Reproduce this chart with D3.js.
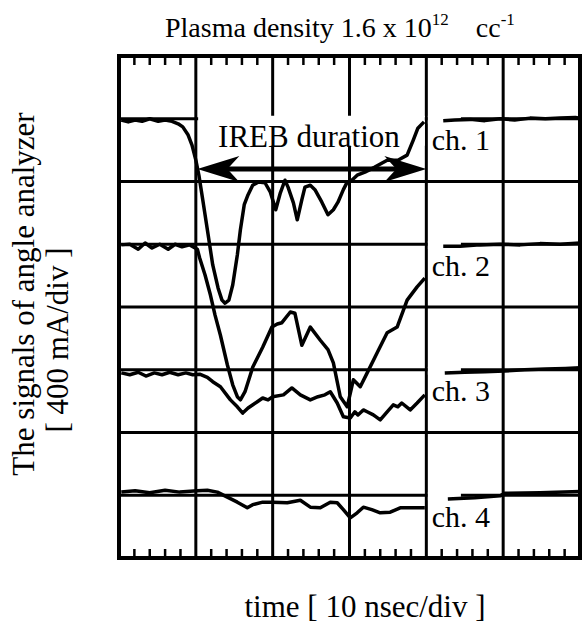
<!DOCTYPE html>
<html>
<head>
<meta charset="utf-8">
<script src="https://cdn.jsdelivr.net/npm/d3@7/dist/d3.min.js"></script>
<style>
  body { margin: 0; background: #fff; }
  text { font-family: "Liberation Serif", "Times New Roman", serif; fill: #000; }
</style>
</head>
<body>
<div id="chart"></div>
<script>
// Data (time in ns, signal in screen divisions, 0 = bottom of graticule)
//-----------------------------------------------------------------------
var chNames = ["ch. 1", "ch. 2", "ch. 3", "ch. 4"];
var chBase = [7, 5, 3, 1];

// null = trace hidden behind the channel label
var ch1 = [[0.3,6.98],[1.2,6.95],[2.1,6.98],[3.0,6.96],[4.0,7.0],[5.1,6.96],[6.0,6.98],[6.9,6.96],
  [7.7,6.92],[8.3,6.87],[9.0,6.74],[9.5,6.58],[10.0,6.34],[10.4,6.1],[10.9,5.71],[11.6,5.15],
  [12.2,4.67],[12.9,4.3],[13.4,4.11],[13.8,4.06],[14.3,4.11],[14.8,4.35],[15.4,4.83],[15.8,5.23],
  [16.3,5.63],[16.8,5.79],[17.4,5.94],[18.1,5.99],[19.0,5.98],[19.7,5.83],[20.4,5.55],[21.0,5.82],
  [21.6,6.02],[22.0,5.91],[22.7,5.66],[23.2,5.39],[23.8,5.71],[24.2,5.91],[24.9,5.94],[25.5,5.87],
  [26.4,5.67],[27.2,5.47],[27.9,5.55],[28.5,5.67],[29.2,5.87],[29.7,5.99],[30.3,6.02],[31.0,6.1],
  [32.0,6.15],[33.3,6.23],[34.9,6.34],[36.3,6.34],[37.5,6.42],[38.3,6.66],[38.9,6.85],[39.7,6.95],
  null,
  [42.2,6.97],[43.7,6.98],[45.7,6.99],[47.6,6.97],[49.6,7.0],[51.5,6.98],[53.5,7.01],[55.5,7.0],
  [57.4,7.01],[59.4,7.02],[60,7.01]];

var ch2 = [[0.3,4.99],[1.4,5.0],[2.5,4.92],[3.4,5.02],[4.3,4.94],[5.3,5.0],[6.4,4.92],[7.3,5.0],
  [8.2,4.96],[9.2,4.99],[10.2,4.92],[10.5,4.78],[11.2,4.51],[11.9,4.19],[12.5,3.87],[13.2,3.55],
  [14.1,3.08],[14.8,2.76],[15.4,2.57],[15.8,2.52],[16.4,2.65],[17.1,2.92],[17.4,3.04],[18.7,3.36],
  [19.9,3.68],[20.6,3.73],[21.2,3.75],[22.3,3.92],[22.9,3.9],[23.8,3.39],[24.9,3.68],[26.2,3.47],
  [27.2,3.32],[27.9,3.11],[28.8,2.57],[29.7,2.41],[30.5,2.84],[31.4,2.73],[32.3,2.95],[33.6,3.27],
  [34.9,3.59],[36.2,3.68],[37.5,4.11],[38.8,4.32],[39.8,4.46],
  null,
  [42.2,4.97],[44.4,4.97],[47.0,4.99],[49.6,5.0],[52.2,4.99],[54.8,5.01],[57.4,5.0],[60,5.02]];

var ch3 = [[0.3,2.95],[1.4,2.92],[2.5,2.96],[3.5,2.9],[4.6,2.95],[5.6,2.92],[6.6,2.96],[7.7,2.92],
  [8.7,2.95],[9.6,2.92],[10.5,2.93],[11.5,2.88],[12.2,2.81],[13.2,2.73],[14.5,2.52],[15.4,2.41],
  [16.1,2.31],[16.8,2.39],[18.0,2.49],[18.7,2.55],[19.4,2.52],[20.0,2.57],[21.4,2.6],[22.5,2.71],
  [23.6,2.6],[24.9,2.52],[25.9,2.57],[26.8,2.6],[27.5,2.65],[28.4,2.47],[29.2,2.25],[30.1,2.23],
  [30.7,2.33],[31.1,2.28],[31.8,2.36],[32.3,2.33],[33.1,2.28],[34.0,2.2],[34.9,2.33],[35.7,2.44],
  [36.3,2.41],[36.8,2.47],[37.9,2.36],[38.8,2.47],[39.8,2.6],
  null,
  [42.4,2.95],[45.0,2.96],[47.6,2.97],[50.2,2.98],[52.8,3.0],[55.5,3.01],[58.1,3.02],[60,3.03]];

var ch4 = [[0.3,1.05],[2.1,1.07],[4.0,1.04],[6.0,1.08],[7.9,1.05],[10.2,1.07],[11.5,1.08],[12.8,1.05],
  [14.1,0.97],[15.4,0.89],[16.7,0.8],[17.4,0.85],[18.7,0.89],[20.0,0.89],[21.9,0.88],[23.6,0.92],
  [24.9,0.81],[26.2,0.8],[27.5,0.89],[28.4,0.88],[29.2,0.77],[30.1,0.64],[31.0,0.72],[31.8,0.81],
  [32.9,0.77],[34.0,0.72],[35.3,0.73],[36.6,0.8],[38.3,0.8],[39.8,0.8],
  null,
  [42.8,0.94],[46.3,0.96],[49.6,0.99],[50.2,1.03],[54.8,1.04],[60,1.06]];

var traces = [ch1, ch2, ch3, ch4];

// IREB duration arrow (ns) and its level (div)
var arrowSpan = [10.2, 40.0];
var arrowLevel = 6.2;

// Sizing parameters
//------------------
var svgWidth = 585;
var svgHeight = 629;

var frame = { left: 119, right: 580, top: 56, bottom: 558 };

var svg = d3.select("#chart")
  .append("svg")
  .attr("width", svgWidth)
  .attr("height", svgHeight);

svg.append("rect")
  .attr("width", svgWidth)
  .attr("height", svgHeight)
  .attr("fill", "#fff");

var x = d3.scaleLinear().domain([0, 60]).range([frame.left, frame.right]);
var y = d3.scaleLinear().domain([0, 8]).range([frame.bottom, frame.top]);

// Graticule
//----------
var grid = svg.append("g").attr("stroke", "#000").attr("stroke-width", 3);

grid.selectAll(".vline")
  .data(d3.range(10, 60, 10))
  .enter()
  .append("line")
  .attr("x1", d => x(d)).attr("x2", d => x(d))
  .attr("y1", y(8)).attr("y2", y(0));

grid.selectAll(".hline")
  .data(d3.range(1, 8))
  .enter()
  .append("line")
  .attr("x1", x(0)).attr("x2", x(60))
  .attr("y1", d => y(d)).attr("y2", d => y(d));

// minor ticks, top and bottom
var minor = d3.range(2, 60, 2).filter(d => d % 10 !== 0);
grid.selectAll(".tickTop")
  .data(minor)
  .enter()
  .append("line")
  .attr("stroke-width", 2.5)
  .attr("x1", d => x(d)).attr("x2", d => x(d))
  .attr("y1", y(8)).attr("y2", y(8) + 9);
grid.selectAll(".tickBottom")
  .data(minor)
  .enter()
  .append("line")
  .attr("stroke-width", 2.5)
  .attr("x1", d => x(d)).attr("x2", d => x(d))
  .attr("y1", y(0)).attr("y2", y(0) - 9);

svg.append("rect")
  .attr("x", x(0)).attr("y", y(8))
  .attr("width", x(60) - x(0)).attr("height", y(0) - y(8))
  .attr("fill", "none")
  .attr("stroke", "#000")
  .attr("stroke-width", 4);

// white patches behind the labels
svg.append("rect")
  .attr("x", x(10.3)).attr("y", y(7) - 3)
  .attr("width", x(39.8) - x(10.3)).attr("height", 30)
  .attr("fill", "#fff");

svg.selectAll(".mask")
  .data(chBase)
  .enter()
  .append("rect")
  .attr("x", x(40.2))
  .attr("y", d => y(d) - 3)
  .attr("width", x(44.5) - x(40.2))
  .attr("height", 8)
  .attr("fill", "#fff");

// Traces
//-------
var line = d3.line()
  .defined(d => d !== null)
  .x(d => x(d[0]))
  .y(d => y(d[1]));

svg.selectAll(".trace")
  .data(traces)
  .enter()
  .append("path")
  .attr("d", line)
  .attr("fill", "none")
  .attr("stroke", "#000")
  .attr("stroke-width", 3.5)
  .attr("stroke-linejoin", "round");

// Channel labels
svg.selectAll(".chLabel")
  .data(chNames)
  .enter()
  .append("text")
  .attr("x", x(40.7))
  .attr("y", (d, i) => y(chBase[i] - 0.5))
  .attr("font-size", 30)
  .text(d => d);

// IREB duration arrow
//--------------------
var ax0 = x(arrowSpan[0]), ax1 = x(arrowSpan[1]), ay = y(arrowLevel);
svg.append("line")
  .attr("x1", ax0 + 20).attr("x2", ax1 - 20)
  .attr("y1", ay).attr("y2", ay)
  .attr("stroke", "#000")
  .attr("stroke-width", 5);

svg.append("path")
  .attr("d", `M${ax0},${ay} L${ax0 + 42},${ay - 13} L${ax0 + 30},${ay} L${ax0 + 42},${ay + 13} Z`)
  .attr("fill", "#000");
svg.append("path")
  .attr("d", `M${ax1},${ay} L${ax1 - 42},${ay - 13} L${ax1 - 30},${ay} L${ax1 - 42},${ay + 13} Z`)
  .attr("fill", "#000");

svg.append("text")
  .attr("x", x(12.9))
  .attr("y", y(6.55))
  .attr("font-size", 31)
  .text("IREB duration");

// Titles
//-------
var title = svg.append("text")
  .attr("x", 165)
  .attr("y", 37)
  .attr("font-size", 28);
title.append("tspan").text("Plasma density 1.6 x 10");
title.append("tspan").attr("font-size", 17).attr("dy", -12).text("12");
title.append("tspan").attr("dy", 12).attr("dx", 27).text("cc");
title.append("tspan").attr("font-size", 17).attr("dy", -12).text("-1");

svg.append("text")
  .attr("x", 365)
  .attr("y", 617)
  .attr("text-anchor", "middle")
  .attr("font-size", 31)
  .text("time [ 10 nsec/div ]");

var yLabel = svg.append("g").attr("transform", "rotate(-90)");
yLabel.append("text")
  .attr("x", -294)
  .attr("y", 34)
  .attr("text-anchor", "middle")
  .attr("font-size", 31)
  .text("The signals of angle analyzer");
yLabel.append("text")
  .attr("x", -340)
  .attr("y", 68)
  .attr("text-anchor", "middle")
  .attr("font-size", 31)
  .text("[ 400 mA/div ]");
</script>
</body>
</html>
